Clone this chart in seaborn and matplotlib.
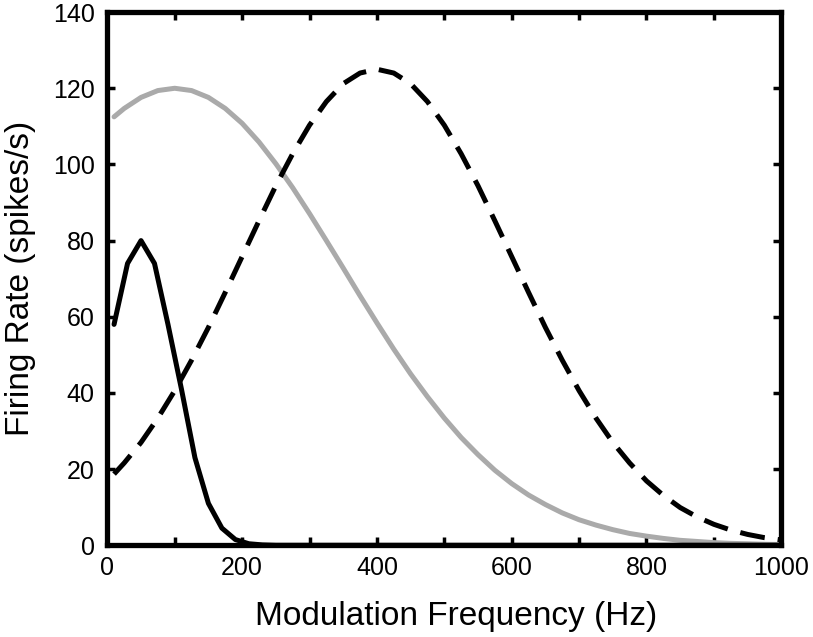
import numpy as np
import pandas as pd
import matplotlib
matplotlib.use("Agg")
import matplotlib.pyplot as plt
import seaborn as sns

# black solid curve (low-pass, sampled every 20 Hz near the peak)
fast_x = [10, 30, 50, 70, 90, 110, 130, 150, 170, 190, 210, 230, 250, 300, 400, 500, 600, 700, 800, 900, 1000]
fast_y = [58, 74, 80, 74, 58, 41, 23, 11, 4.5, 1.5, 0.4, 0.1, 0, 0, 0, 0, 0, 0, 0, 0, 0]

# shared frequency grid for the two broad curves
grid_x = [10, 25, 50, 75, 100, 125, 150, 175, 200, 225, 250, 275, 300, 325, 350, 375, 400,
          425, 450, 475, 500, 525, 550, 575, 600, 625, 650, 675, 700, 725, 750, 775, 800,
          825, 850, 875, 900, 925, 950, 975, 1000]

# gray solid curve
mid_y = [112.5, 114.7, 117.6, 119.4, 120, 119.4, 117.6, 114.7, 110.8, 105.9, 100.2, 93.9, 87.1,
         80.0, 72.8, 65.5, 58.4, 51.5, 45.0, 39.0, 33.4, 28.3, 23.8, 19.7, 16.2, 13.2, 10.7,
         8.5, 6.7, 5.3, 4.1, 3.1, 2.4, 1.8, 1.3, 1.0, 0.7, 0.5, 0.4, 0.26, 0.2]

# black dashed curve
high_y = [18.7, 21.6, 27.0, 33.4, 40.6, 48.6, 57.2, 66.4, 75.8, 85.2, 94.4, 102.8, 110.3,
          116.5, 121.2, 124.0, 125, 124.0, 121.2, 116.5, 110.3, 102.8, 94.4, 85.2, 75.8,
          66.4, 57.2, 48.6, 40.6, 33.4, 27.0, 21.6, 16.9, 13.1, 9.9, 7.45, 5.5, 4.0, 2.85, 2.0, 1.4]

x_ticks = list(range(0, 1001, 100))
x_labels = [str(t) if t % 200 == 0 else "" for t in x_ticks]
y_ticks = list(range(0, 141, 20))

sns.set_style("white")
plt.rcParams["font.family"] = ["Liberation Sans", "DejaVu Sans"]
plt.rcParams["text.color"] = "black"
plt.rcParams["axes.labelcolor"] = "black"

fig = plt.figure(figsize=(8.13, 6.37), dpi=100)
ax = fig.add_axes([0.132, 0.144, 0.829, 0.837])

sns.lineplot(x=grid_x, y=mid_y, color="#aaaaaa", linewidth=3.6, ax=ax)
sns.lineplot(x=fast_x, y=fast_y, color="black", linewidth=3.6, ax=ax)
line = sns.lineplot(x=grid_x, y=high_y, color="black", linewidth=3.6, ax=ax).lines[-1]
line.set_dashes((5, 2.6))

ax.set_xlim(0, 1000)
ax.set_ylim(0, 140)
ax.set_xticks(x_ticks)
ax.set_xticklabels(x_labels)
ax.set_yticks(y_ticks)
ax.tick_params(direction="in", length=6, width=2.5, labelsize=18, top=True, right=True,
               bottom=True, left=True, colors="black")
ax.tick_params(axis="x", pad=8)
ax.tick_params(axis="y", pad=9)
for s in ax.spines.values():
    s.set_linewidth(3.8)
    s.set_color("black")

ax.set_xlabel("Modulation Frequency (Hz)", fontsize=24, labelpad=15)
ax.set_ylabel("Firing Rate (spikes/s)", fontsize=24, labelpad=12)
ax.xaxis.label.set_x(0.517)

plt.savefig("out.png", dpi=100)
